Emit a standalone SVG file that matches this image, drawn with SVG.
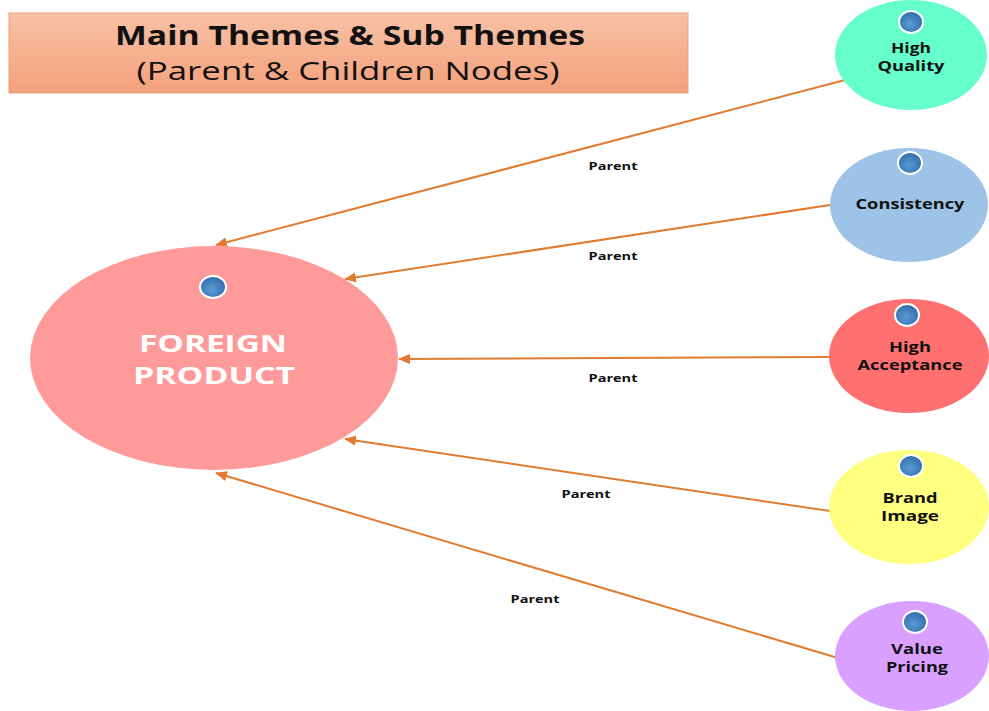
<svg xmlns="http://www.w3.org/2000/svg" width="989" height="711" viewBox="0 0 989 711">
  <defs>
    <linearGradient id="titleFill" x1="0" y1="0" x2="0" y2="1">
      <stop offset="0" stop-color="#f8c1a6"/>
      <stop offset="1" stop-color="#f4a07b"/>
    </linearGradient>
    <radialGradient id="dotFill" cx="0.45" cy="0.6" r="0.6">
      <stop offset="0" stop-color="#5b9bd5"/>
      <stop offset="1" stop-color="#2f6ba8"/>
    </radialGradient>
    <marker id="arrow" viewBox="0 0 12 10" refX="11" refY="5" markerWidth="12" markerHeight="10" markerUnits="userSpaceOnUse" orient="auto">
      <path d="M0,0 L12,5 L0,10 Z" fill="#e07b30"/>
    </marker>
  </defs>
  <style>
    .title { font-family: "Open Sans", "Noto Sans", sans-serif; font-size: 26px; fill: #111; text-anchor: middle; }
    .main-label { font-family: "Open Sans", "Noto Sans", sans-serif; font-size: 24px; font-weight: bold; fill: #fff; text-anchor: middle; }
    .node-label { font-family: "Open Sans", "Noto Sans", sans-serif; font-size: 14px; font-weight: bold; fill: #111; text-anchor: middle; }
    .edge-label { font-family: "Open Sans", "Noto Sans", sans-serif; font-size: 11px; font-weight: bold; fill: #111; text-anchor: middle; }
    .edge { stroke: #e07b30; stroke-width: 2; fill: none; marker-end: url(#arrow); }
    .dot { fill: url(#dotFill); stroke: #fff; stroke-width: 2; }
  </style>

  <rect width="989" height="711" fill="#fff"/>

  <!-- heading -->
  <g id="title">
    <rect x="9" y="13" width="679" height="80" fill="url(#titleFill)" stroke="#e8a080" stroke-width="1"/>
    <text class="title" x="350" y="45" font-weight="bold" textLength="470" lengthAdjust="spacingAndGlyphs">Main Themes &amp; Sub Themes</text>
    <text class="title" x="348" y="80" textLength="423" lengthAdjust="spacingAndGlyphs">(Parent &amp; Children Nodes)</text>
  </g>

  <!-- connectors -->
  <g id="connectors">
    <line class="edge" x1="845" y1="80" x2="216" y2="245"/>
    <line class="edge" x1="830" y1="205" x2="345" y2="279"/>
    <line class="edge" x1="830" y1="357" x2="399" y2="359"/>
    <line class="edge" x1="830" y1="511" x2="345" y2="439"/>
    <line class="edge" x1="838" y1="658" x2="216" y2="473"/>
    <text class="edge-label" x="613" y="170" textLength="49" lengthAdjust="spacingAndGlyphs">Parent</text>
    <text class="edge-label" x="613" y="260" textLength="49" lengthAdjust="spacingAndGlyphs">Parent</text>
    <text class="edge-label" x="613" y="382" textLength="49" lengthAdjust="spacingAndGlyphs">Parent</text>
    <text class="edge-label" x="586" y="498" textLength="49" lengthAdjust="spacingAndGlyphs">Parent</text>
    <text class="edge-label" x="535" y="603" textLength="49" lengthAdjust="spacingAndGlyphs">Parent</text>
  </g>

  <!-- parent node -->
  <g id="foreign-product">
    <ellipse cx="214" cy="358" rx="184" ry="112" fill="#ff9a9a"/>
    <ellipse class="dot" cx="213" cy="287" rx="13" ry="11"/>
    <text class="main-label" x="213" y="352" textLength="148" lengthAdjust="spacingAndGlyphs">FOREIGN</text>
    <text class="main-label" x="214" y="384" textLength="162" lengthAdjust="spacingAndGlyphs">PRODUCT</text>
  </g>

  <!-- child nodes -->
  <g id="high-quality">
    <ellipse cx="911" cy="55" rx="76" ry="55" fill="#66ffcc"/>
    <ellipse class="dot" cx="911" cy="22" rx="12" ry="11"/>
    <text class="node-label" x="911" y="53" textLength="40" lengthAdjust="spacingAndGlyphs">High</text>
    <text class="node-label" x="911" y="71" textLength="67" lengthAdjust="spacingAndGlyphs">Quality</text>
  </g>

  <g id="consistency">
    <ellipse cx="909" cy="205" rx="79" ry="57" fill="#9dc3e6"/>
    <ellipse class="dot" cx="910" cy="163" rx="12" ry="11"/>
    <text class="node-label" x="910" y="209" textLength="109" lengthAdjust="spacingAndGlyphs">Consistency</text>
  </g>

  <g id="high-acceptance">
    <ellipse cx="909" cy="356" rx="80" ry="57" fill="#ff7070"/>
    <ellipse class="dot" cx="907" cy="315" rx="12" ry="11"/>
    <text class="node-label" x="910" y="352" textLength="42" lengthAdjust="spacingAndGlyphs">High</text>
    <text class="node-label" x="910" y="370" textLength="105" lengthAdjust="spacingAndGlyphs">Acceptance</text>
  </g>

  <g id="brand-image">
    <ellipse cx="909" cy="507" rx="80" ry="57" fill="#ffff80"/>
    <ellipse class="dot" cx="911" cy="466" rx="12" ry="11"/>
    <text class="node-label" x="910" y="503" textLength="55" lengthAdjust="spacingAndGlyphs">Brand</text>
    <text class="node-label" x="910" y="521" textLength="58" lengthAdjust="spacingAndGlyphs">Image</text>
  </g>

  <g id="value-pricing">
    <ellipse cx="912" cy="656" rx="77" ry="55" fill="#d9a0ff"/>
    <ellipse class="dot" cx="915" cy="622" rx="12" ry="11"/>
    <text class="node-label" x="917" y="654" textLength="52" lengthAdjust="spacingAndGlyphs">Value</text>
    <text class="node-label" x="917" y="672" textLength="62" lengthAdjust="spacingAndGlyphs">Pricing</text>
  </g>
</svg>
